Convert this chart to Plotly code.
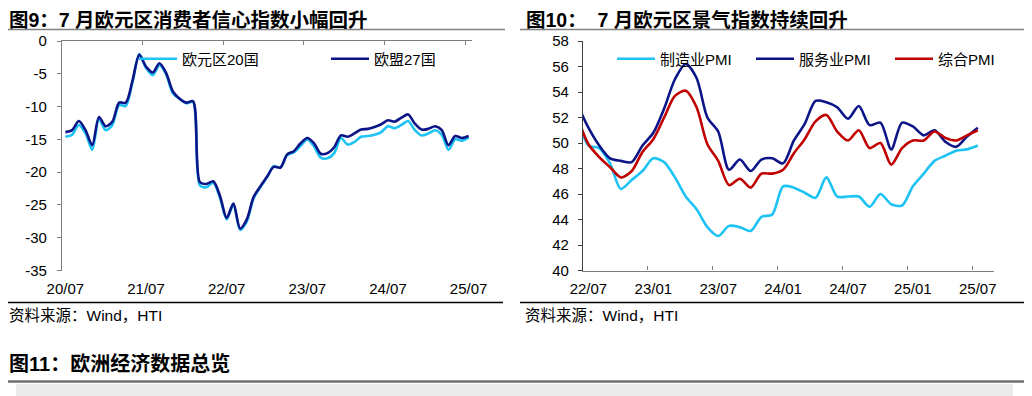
import plotly.graph_objects as go

W, H = 1032, 396
OFF = 8  # page body margin offset of the figure div

# ---------------- data: left chart (consumer confidence, 2020/07 - 2025/07, monthly) ----------------
cc_ticktext = ["20/07", "21/07", "22/07", "23/07", "24/07", "25/07"]
cc_yticks = [0, -5, -10, -15, -20, -25, -30, -35]
ea20 = [-14.6, -14.3, -12.8, -14.1, -16.6, -11.9, -13.6, -12.8, -9.8, -9.9,
        -6.2, -2.0, -4.1, -5.2, -3.7, -5.1, -8.0, -8.8, -9.5, -9.3,
        -22.0, -22.3, -21.6, -23.9, -27.2, -25.0, -28.8, -27.5, -24.0, -22.3,
        -20.8, -19.1, -19.3, -17.4, -17.0, -16.0, -15.0, -16.1, -17.8, -17.9,
        -17.1, -14.8, -15.8, -15.4, -14.6, -14.5, -14.3, -13.9, -13.0, -13.3,
        -12.8, -12.2, -13.6, -14.4, -14.1, -13.6, -14.3, -16.6, -15.0, -15.2,
        -14.7]
eu27 = [-13.9, -13.6, -12.2, -13.6, -15.9, -11.6, -13.0, -12.3, -9.4, -9.4,
        -6.0, -2.1, -3.9, -4.8, -3.4, -4.9, -7.7, -8.8, -9.4, -9.2,
        -21.5, -21.8, -21.4, -23.6, -27.0, -24.8, -28.6, -27.2, -23.8, -22.2,
        -20.7, -19.2, -19.3, -17.3, -16.8, -15.6, -14.8, -15.6, -17.2, -17.1,
        -16.2, -14.4, -14.6, -14.1, -13.5, -13.4, -13.1, -12.7, -12.1, -12.3,
        -11.7, -11.2, -12.6, -13.5, -13.4, -13.0, -13.6, -15.9, -14.5, -14.8,
        -14.5]

# ---------------- data: right chart (PMI, 2022/06 - 2025/07; axis starts at 22/07) ----------------
pmi_ticktext = ["22/07", "23/01", "23/07", "24/01", "24/07", "25/01", "25/07"]
pmi_mfg = [52.1, 49.8, 49.6, 48.4, 46.4, 47.1, 47.8, 48.8, 48.5, 47.3,
           45.8, 44.8, 43.4, 42.7, 43.5, 43.4, 43.1, 44.2, 44.4, 46.6,
           46.5, 46.1, 45.7, 47.3, 45.8, 45.8, 45.8, 45.0, 46.0, 45.2,
           45.1, 46.6, 47.6, 48.6, 49.0, 49.4, 49.5, 49.8]
pmi_serv = [53.0, 51.2, 49.8, 48.8, 48.6, 48.5, 49.8, 50.8, 52.7, 55.0,
            56.2, 55.1, 52.0, 50.9, 47.9, 48.7, 47.8, 48.7, 48.8, 48.4,
            50.2, 51.5, 53.3, 53.2, 52.8, 51.9, 52.9, 51.4, 51.6, 49.5,
            51.6, 51.3, 50.6, 51.0, 50.1, 49.7, 50.5, 51.2]
pmi_comp = [52.0, 49.9, 48.9, 48.1, 47.3, 47.8, 49.3, 50.3, 52.0, 53.7,
            54.1, 52.8, 49.9, 48.6, 46.7, 47.2, 46.5, 47.6, 47.6, 47.9,
            49.2, 50.3, 51.7, 52.2, 50.9, 50.2, 51.0, 49.6, 50.0, 48.3,
            49.6, 50.2, 50.2, 50.9, 50.4, 50.2, 50.6, 51.0]

FONT = "Liberation Sans, Noto Sans CJK SC, sans-serif"
AXC = "#7f7f7f"

def px(x):
    return (x - OFF) / W

def py(y):
    return 1 - (y - OFF) / H

cc_x = list(range(len(ea20)))
pmi_x = list(range(-1, len(pmi_mfg) - 1))
cc_n = len(ea20)
pmi_n = len(pmi_mfg) - 1

fig = go.Figure()

LW = 2.6
# left chart
fig.add_trace(go.Scatter(x=cc_x, y=ea20, mode="lines", name="欧元区20国",
                         line=dict(color="#1EC3F5", width=LW, shape="spline", smoothing=0.8),
                         xaxis="x", yaxis="y", legend="legend"))
fig.add_trace(go.Scatter(x=cc_x, y=eu27, mode="lines", name="欧盟27国",
                         line=dict(color="#0B1587", width=LW, shape="spline", smoothing=0.8),
                         xaxis="x3", yaxis="y", legend="legend"))
# right chart
fig.add_trace(go.Scatter(x=pmi_x, y=pmi_mfg, mode="lines", name="制造业PMI",
                         line=dict(color="#1EC3F5", width=LW, shape="spline", smoothing=0.8),
                         xaxis="x2", yaxis="y2", legend="legend2"))
fig.add_trace(go.Scatter(x=pmi_x, y=pmi_serv, mode="lines", name="服务业PMI",
                         line=dict(color="#0B1587", width=LW, shape="spline", smoothing=0.8),
                         xaxis="x4", yaxis="y2", legend="legend2"))
fig.add_trace(go.Scatter(x=pmi_x, y=pmi_comp, mode="lines", name="综合PMI",
                         line=dict(color="#C00000", width=LW, shape="spline", smoothing=0.8),
                         xaxis="x4", yaxis="y2", legend="legend2"))

tickfont = dict(family=FONT, size=15, color="#000000")
ldom = [px(62), px(472)]
rdom = [px(583), px(994)]
ydom = [py(270.5), py(41)]

cc_range = [-0.5, cc_n - 0.5]
pmi_range = [-0.5, pmi_n + 0.5]

fig.update_layout(
    width=W, height=H, margin=dict(l=0, r=0, t=0, b=0, autoexpand=False),
    paper_bgcolor="white", plot_bgcolor="white",
    font=dict(family=FONT, size=15, color="#000"),
    xaxis=dict(domain=ldom, anchor="y", range=cc_range, showgrid=False, zeroline=False,
               showline=False, ticks="", tickmode="array", automargin=False,
               tickvals=list(range(0, cc_n, 12)), ticktext=cc_ticktext,
               tickfont=tickfont, ticklabelstandoff=7),
    xaxis3=dict(overlaying="x", anchor="y", side="top", range=cc_range, showgrid=False,
                zeroline=False, showline=True, linecolor=AXC, linewidth=1.3,
                ticks="inside", ticklen=4, tickcolor=AXC, tickwidth=1.3, automargin=False,
                tickmode="array", tickvals=[v - 0.5 for v in range(0, cc_n, 12)],
                showticklabels=False),
    yaxis=dict(domain=ydom, anchor="x", range=[-35, 0], showgrid=False, automargin=False,
               tickmode="array", tickvals=cc_yticks, ticktext=[str(v) for v in cc_yticks],
               zeroline=False, showline=True, linecolor=AXC, linewidth=1.3,
               ticks="outside", ticklen=4, tickcolor=AXC, tickwidth=1.3,
               tickfont=tickfont, ticklabelstandoff=7),
    xaxis2=dict(domain=rdom, anchor="y2", range=pmi_range, showgrid=False, zeroline=False,
                showline=False, ticks="", tickmode="array", automargin=False,
                tickvals=list(range(0, pmi_n + 1, 6)), ticktext=pmi_ticktext,
                tickfont=tickfont, ticklabelstandoff=7),
    xaxis4=dict(overlaying="x2", anchor="y2", side="bottom", range=pmi_range, showgrid=False,
                zeroline=False, showline=True, linecolor=AXC, linewidth=1.3,
                ticks="inside", ticklen=4, tickcolor=AXC, tickwidth=1.3, automargin=False,
                tickmode="array", tickvals=[v - 0.5 for v in range(0, pmi_n + 1, 6)],
                showticklabels=False),
    yaxis2=dict(domain=ydom, anchor="x2", range=[40, 58], dtick=2, showgrid=False,
                zeroline=False, showline=True, linecolor="#404040", linewidth=1.3,
                ticks="outside", ticklen=4, tickcolor="#404040", tickwidth=1.3,
                tickfont=tickfont, ticklabelstandoff=6, automargin=False),
    legend=dict(orientation="h", x=px(134), xanchor="left", y=py(59), yanchor="middle",
                font=dict(family=FONT, size=15, color="#000"), bgcolor="rgba(0,0,0,0)",
                entrywidth=139, entrywidthmode="pixels", borderwidth=0, itemwidth=38),
    legend2=dict(orientation="h", x=px(612), xanchor="left", y=py(59), yanchor="middle",
                 font=dict(family=FONT, size=15, color="#000"), bgcolor="rgba(0,0,0,0)",
                 entrywidth=86, entrywidthmode="pixels", borderwidth=0, itemwidth=38),
)

shapes = []
def hline(x0, x1, y, color, width):
    shapes.append(dict(type="line", xref="paper", yref="paper", x0=px(x0), x1=px(x1),
                       y0=py(y), y1=py(y), line=dict(color=color, width=width)))

hline(5, 505, 29.5, "#808080", 1.5)
hline(520, 1026, 29.5, "#808080", 1.5)
hline(5, 503, 302.5, "#000000", 1.3)
hline(520, 1026, 302.5, "#000000", 1.3)
hline(5, 1027, 381.5, "#6e6e6e", 2.5)
shapes.append(dict(type="rect", xref="paper", yref="paper", x0=px(16), x1=px(1013),
                   y0=py(400), y1=py(384), fillcolor="#ebebeb", line=dict(width=0)))
fig.update_layout(shapes=shapes)

ann = []
def text(x, y, s, size, bold=False, family=FONT, color="#000"):
    ann.append(dict(xref="paper", yref="paper", x=px(x), y=py(y), xanchor="left",
                    yanchor="middle", showarrow=False, borderpad=0,
                    text=("<b>%s</b>" % s) if bold else s,
                    font=dict(family=family, size=size, color=color)))

text(8, 19.5, "图9：7 月欧元区消费者信心指数小幅回升", 19.5, bold=True)
text(525, 19.5, "图10：\u00a0\u00a07 月欧元区景气指数持续回升", 19.5, bold=True)
text(8, 315, "资料来源：Wind，HTI", 15.5)
text(524, 315, "资料来源：Wind，HTI", 15.5)
text(8, 363, "图11：欧洲经济数据总览", 20, bold=True)
fig.update_layout(annotations=ann)

fig.write_html("out.html")
